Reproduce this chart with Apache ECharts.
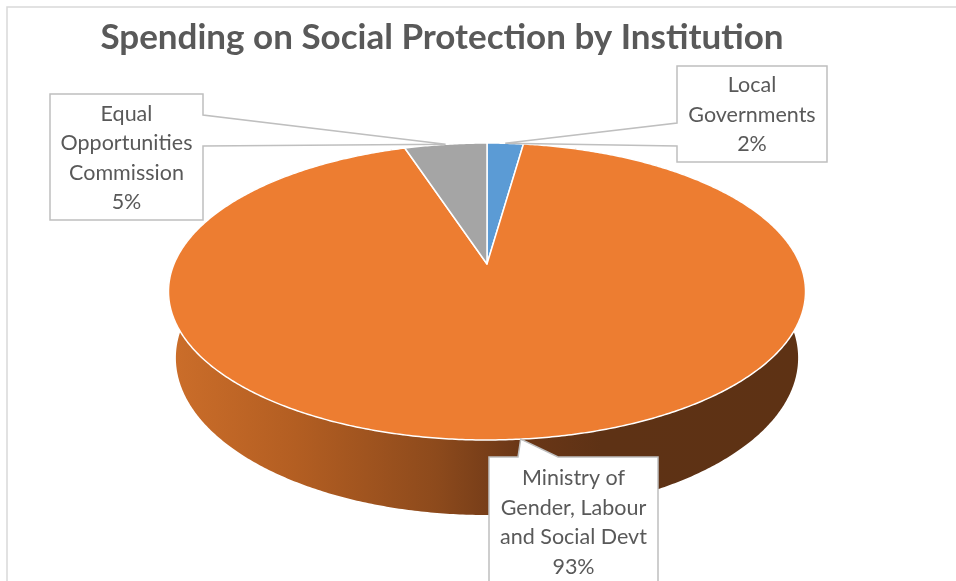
<!DOCTYPE html>
<html>
<head>
<meta charset="utf-8">
<script src="https://cdn.jsdelivr.net/npm/echarts@6/dist/echarts.min.js"></script>
<style>html,body{margin:0;padding:0;background:#fff;}#chart{width:956px;height:581px;}</style>
</head>
<body>
<div id="chart"></div>
<script>
// ---- data ----
const categories = ['Local Governments', 'Ministry of Gender, Labour and Social Devt', 'Equal Opportunities Commission'];
const labelLines = [['Local', 'Governments'], ['Ministry of', 'Gender, Labour', 'and Social Devt'], ['Equal', 'Opportunities', 'Commission']];
const shares = [2.2, 92.8, 5.0];
const titleText = 'Spending on Social Protection by Institution';

// ---- styles / layout ----
const topColors = ['#5B9BD5', '#ED7D31', '#A5A5A5'];
const sideStops = [
  [[0, '#3f75a8'], [1, '#2a4f73']],
  [[0, '#cc6e2a'], [0.2, '#b35e22'], [0.42, '#8d4a1c'], [0.55, '#6b3717'], [0.68, '#5e3215'], [1, '#5e3214']],
  [[0, '#8a8a8a'], [1, '#5a5a5a']]
];
const view = { cx: 487, cy: 264, F: 1502.4, L: 4.8, alphaSin: 0.4581, H: 0.2405 };
const boxes = [
  { x: 677, y: 66, w: 150, h: 96, side: 'left', a: 123, b: 146 },
  { x: 489, y: 457, w: 169, h: 129, side: 'top', a: 518, b: 558 },
  { x: 50, y: 94, w: 153, h: 126, side: 'right', a: 115, b: 146 }
];
const labelFont = 'Lato';

const total = shares.reduce((s, v) => s + v, 0);
const cosA = Math.sqrt(1 - view.alphaSin * view.alphaSin);
function proj(phi, r, zDown) {
  const u = r * Math.sin(phi), v = r * Math.cos(phi);
  const depth = view.L + cosA * v + zDown * view.alphaSin;
  const up = view.alphaSin * v - zDown * cosA;
  return [view.cx + view.F * u / depth, view.cy - view.F * up / depth];
}
function arc(a1, a2, zDown) {
  const pts = [];
  const n = Math.max(2, Math.ceil(Math.abs(a2 - a1) / (Math.PI / 360)));
  for (let i = 0; i <= n; i++) pts.push(proj(a1 + (a2 - a1) * i / n, 1, zDown));
  return pts;
}

function renderItem(params, api) {
  const i = params.dataIndex;
  let before = 0;
  for (let k = 0; k < i; k++) before += shares[k];
  const a1 = before / total * Math.PI * 2;
  const a2 = (before + api.value(0)) / total * Math.PI * 2;
  const topArc = arc(a1, a2, 0);
  const botArc = arc(a1, a2, view.H).reverse();
  const children = [];
  children.push({
    type: 'polygon', z2: 1,
    shape: { points: topArc.concat(botArc) },
    style: {
      fill: new echarts.graphic.LinearGradient(168, 0, 806, 0,
        sideStops[i].map(s => ({ offset: s[0], color: s[1] })), true),
      stroke: null
    }
  });
  children.push({
    type: 'polygon', z2: 10,
    shape: { points: [proj(0, 0, 0)].concat(topArc) },
    style: { fill: topColors[i], stroke: '#ffffff', lineWidth: 1.5, lineJoin: 'round' }
  });
  // callout
  const tip = proj((a1 + a2) / 2, 1, 0);
  const bx = boxes[i];
  const x0 = bx.x, y0 = bx.y, x1 = bx.x + bx.w, y1 = bx.y + bx.h;
  let pts;
  if (bx.side === 'left') {
    pts = [[x0, y0], [x1, y0], [x1, y1], [x0, y1], [x0, bx.b], tip, [x0, bx.a]];
  } else if (bx.side === 'right') {
    pts = [[x0, y0], [x1, y0], [x1, bx.a], tip, [x1, bx.b], [x1, y1], [x0, y1]];
  } else {
    pts = [[x0, y0], [bx.a, y0], tip, [bx.b, y0], [x1, y0], [x1, y1], [x0, y1]];
  }
  children.push({
    type: 'polygon', z2: 20,
    shape: { points: pts },
    style: { fill: '#ffffff', stroke: '#bfbfbf', lineWidth: 1.5 }
  });
  const pct = Math.round(api.value(0) / total * 100) + '%';
  children.push({
    type: 'text', z2: 21,
    x: (x0 + x1) / 2, y: (y0 + y1) / 2 + 1,
    style: {
      text: labelLines[i].concat([pct]).join('\n'),
      fill: '#595959', fontFamily: labelFont, fontSize: 21.5, lineHeight: 29.5,
      align: 'center', verticalAlign: 'middle'
    }
  });
  return { type: 'group', children: children };
}

const chart = echarts.init(document.getElementById('chart'), null, { renderer: 'canvas' });
chart.setOption({
  animation: false,
  backgroundColor: '#ffffff',
  title: {
    text: titleText, left: 437, top: 15, textAlign: 'center',
    textStyle: { fontFamily: 'Lato', fontWeight: 'bold', fontSize: 35, color: '#595959' }
  },
  graphic: [{
    type: 'rect', silent: true, z: -1,
    shape: { x: 7, y: 7, width: 1000, height: 700 },
    style: { fill: 'none', stroke: '#d9d9d9', lineWidth: 1.5 }
  }],
  series: [{
    type: 'custom', coordinateSystem: 'none', silent: true,
    renderItem: renderItem,
    data: shares.map((v, i) => ({ name: categories[i], value: [v] }))
  }]
});
</script>
</body>
</html>
